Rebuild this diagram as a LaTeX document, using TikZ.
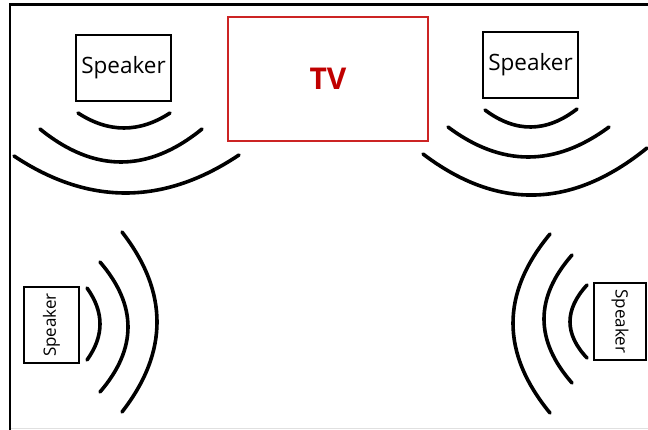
\documentclass[tikz,border=0pt]{standalone}
\usepackage{fontspec}
\setmainfont{Open Sans}
\definecolor{tvred}{RGB}{204,36,36}
\definecolor{tvtext}{RGB}{192,0,0}
\begin{document}
\begin{tikzpicture}[x=1pt,y=-1pt,
  spk/.style={draw=black,line width=1.6pt,inner sep=0pt,font=\fontsize{22.5}{24}\selectfont},
  wave/.style={line width=3.6pt,line cap=round}]
\useasboundingbox (0,0) rectangle (648,430);
% frame
\draw[black!12,line width=1pt] (10,428.5) -- (648,428.5);
\draw[line width=2.2pt] (10,430) -- (10,4.5) -- (648,4.5);
% nodes
\node[spk,minimum width=95pt,minimum height=66pt] (spkTL) at (123.5,68) {Speaker};
\node[spk,minimum width=95pt,minimum height=66pt] (spkTR) at (530.5,65) {Speaker};
\node[draw=tvred,line width=1.8pt,minimum width=200pt,minimum height=124pt,inner sep=0pt,
  text=tvtext,font=\fontsize{30}{32}\selectfont\bfseries] (tv) at (328,79) {TV};
\node[spk,rotate=90,minimum width=76pt,minimum height=55pt,font=\fontsize{17}{20}\selectfont] (spkBL) at (51.5,325) {Speaker};
\node[spk,rotate=-90,minimum width=77pt,minimum height=52pt,font=\fontsize{17}{20}\selectfont] (spkBR) at (620,321.5) {Speaker};
% waves top-left
\draw[wave] (78,113) .. controls (108.67,133) and (139.33,133) .. (170,113);
\draw[wave] (40,129) .. controls (94,173) and (148,173) .. (202,129);
\draw[wave] (14,156) .. controls (88.67,205.67) and (163.67,205.33) .. (239,155);
% waves top-right
\draw[wave] (485,110) .. controls (515.67,133) and (546.33,132.67) .. (577,109);
\draw[wave] (448,127) .. controls (501.33,167) and (555,167) .. (609,127);
\draw[wave] (423,154) .. controls (497.67,210.67) and (572.33,208.67) .. (647,148);
% waves bottom-left
\draw[wave] (87,288) .. controls (104.33,312) and (104.33,336) .. (87,360);
\draw[wave] (100,262) .. controls (137.33,305.33) and (137.33,348.67) .. (100,392);
\draw[wave] (122,232) .. controls (168.67,292) and (168.67,352) .. (122,412);
% waves bottom-right
\draw[wave] (587,285) .. controls (564.33,309.67) and (564.33,334) .. (587,358);
\draw[wave] (572,255) .. controls (534.67,297.67) and (534.67,340.33) .. (572,383);
\draw[wave] (550,234) .. controls (500.67,293.33) and (500.67,353) .. (550,413);
\end{tikzpicture}
\end{document}
